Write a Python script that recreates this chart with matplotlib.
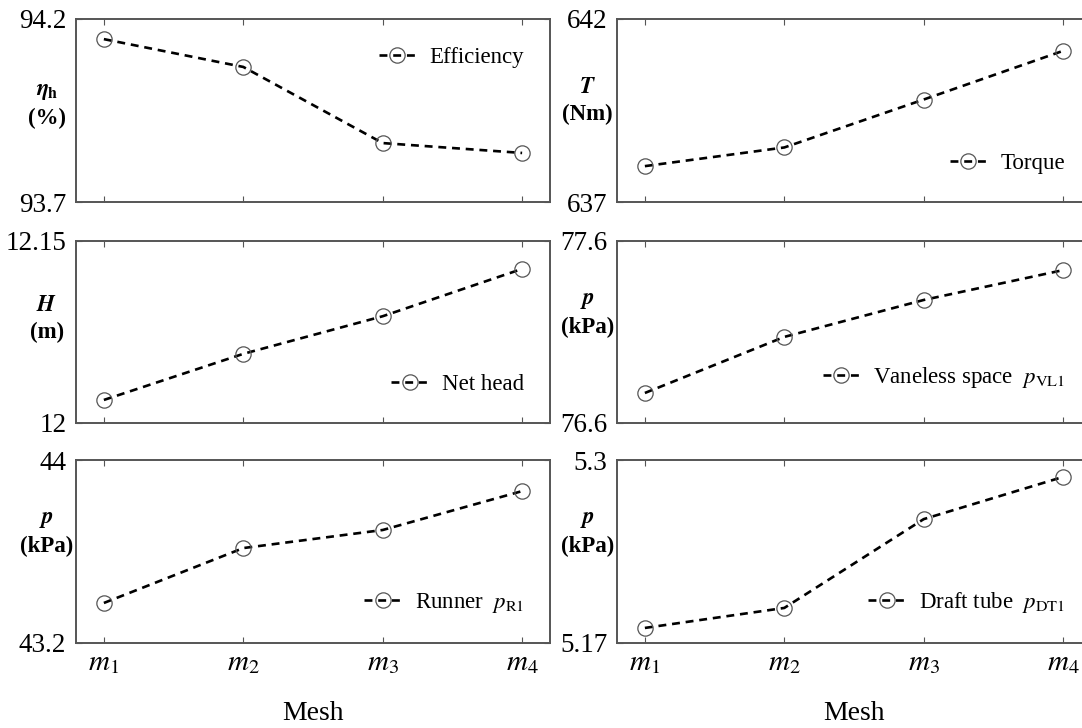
import matplotlib
matplotlib.use("Agg")
import matplotlib.pyplot as plt

plt.rcParams['font.family'] = ['Liberation Serif', 'DejaVu Serif']
plt.rcParams['mathtext.fontset'] = 'stix'

# mesh levels
meshes = [1, 2, 3, 4]
mesh_labels = [r'$m_1$', r'$m_2$', r'$m_3$', r'$m_4$']

# values
efficiency = [94.145, 94.069, 93.861, 93.834]
torque = [637.98, 638.49, 639.80, 641.13]
net_head = [12.019, 12.057, 12.088, 12.127]
p_vl1 = [76.765, 77.073, 77.276, 77.44]
p_r1 = [43.375, 43.615, 43.694, 43.864]
p_dt1 = [5.1807, 5.1949, 5.258, 5.288]

panels = [
    # values, ylim, tick labels, ylabel, legend, legend y, label y
    (efficiency, (93.7, 94.2), ['93.7', '94.2'], r'$\mathbfit{\eta}_\mathbf{h}$' + '\n(%)', 'Efficiency', 0.79, 0.53),
    (torque, (637, 642), ['637', '642'], r'$\mathbfit{T}$' + '\n(Nm)', 'Torque', 0.21, 0.55),
    (net_head, (12, 12.15), ['12', '12.15'], r'$\mathbfit{H}$' + '\n(m)', 'Net head', 0.21, 0.57),
    (p_vl1, (76.6, 77.6), ['76.6', '77.6'], r'$\mathbfit{p}$' + '\n(kPa)', r'Vaneless space  $p_{\mathrm{VL1}}$', 0.25, 0.6),
    (p_r1, (43.2, 44), ['43.2', '44'], r'$\mathbfit{p}$' + '\n(kPa)', r'Runner  $p_{\mathrm{R1}}$', 0.22, 0.6),
    (p_dt1, (5.17, 5.3), ['5.17', '5.3'], r'$\mathbfit{p}$' + '\n(kPa)', r'Draft tube  $p_{\mathrm{DT1}}$', 0.22, 0.6),
]

W, H = 1082, 728
fig = plt.figure(figsize=(W / 100, H / 100), dpi=100)

cols = [76, 617]
rows = [(19, 202), (241, 423), (460, 643)]
width = 474
spine_col = '#555555'

for i, (vals, ylim, ylabels, ylab, leg, leg_y, lab_y) in enumerate(panels):
    r, c = divmod(i, 2)
    top, bot = rows[r]
    ax = fig.add_axes([cols[c] / W, 1 - bot / H, width / W, (bot - top) / H])
    ax.plot(meshes, vals, color='black', linestyle='--', dashes=(3.0, 2.2), lw=1.9,
            marker='o', markersize=11, markerfacecolor='none',
            markeredgecolor='#555555', markeredgewidth=0.9, label=leg)
    ax.set_xlim(0.8, 4.2)
    ax.set_ylim(*ylim)
    ax.set_yticks(ylim)
    ax.set_yticklabels(ylabels)
    ax.set_xticks(meshes)
    ax.tick_params(direction='in', top=True, right=True, length=4, width=0.8,
                   color=spine_col, labelsize=19.5)
    ax.tick_params(axis='y', pad=7)
    if r == 2:
        ax.set_xticklabels(mesh_labels)
        ax.tick_params(axis='x', pad=5, labelsize=21)
        ax.set_xlabel('Mesh', fontsize=20, labelpad=18)
    else:
        ax.set_xticklabels([])
    for s in ax.spines.values():
        s.set_color(spine_col)
        s.set_linewidth(1.4)
    ax.set_ylabel(ylab, rotation=0, fontsize=16.5, fontweight='bold',
                  ha='center', va='center', linespacing=1.35)
    ax.yaxis.set_label_coords(-0.062, lab_y)
    ax.legend(loc='center right', bbox_to_anchor=(0.945, leg_y), frameon=False,
              fontsize=16.5, handlelength=1.6, handletextpad=0.6,
              borderaxespad=0, borderpad=0)

fig.savefig('out.png', dpi=100)
